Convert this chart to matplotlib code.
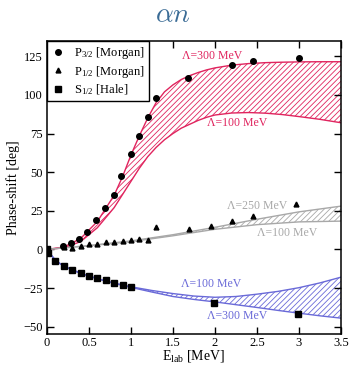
import matplotlib
matplotlib.use("Agg")
import matplotlib.pyplot as plt

plt.rcParams["font.family"] = ["Liberation Serif", "DejaVu Serif"]
plt.rcParams["mathtext.fontset"] = "custom"
plt.rcParams["mathtext.rm"] = "Liberation Serif"
plt.rcParams["mathtext.it"] = "Liberation Serif:italic"
plt.rcParams["hatch.linewidth"] = 0.6

RED = "#e0245e"
GREY = "#a8a8a8"
BLUE = "#6a6ad8"

# data points
p32_x = [0.19, 0.29, 0.38, 0.48, 0.58, 0.69, 0.8, 0.88, 1.0, 1.1, 1.2, 1.3, 1.68, 2.2, 2.45, 3.0]
p32_y = [2.5, 4.3, 7.0, 11.5, 19.0, 26.7, 35.0, 47.4, 62.0, 73.7, 85.5, 98.3, 111.0, 119.4, 122.0, 124.0]

p12_x = [0.2, 0.3, 0.4, 0.5, 0.6, 0.7, 0.8, 0.9, 1.0, 1.1, 1.2, 1.3, 1.69, 1.95, 2.2, 2.45, 2.97]
p12_y = [1.5, 1.2, 2.0, 3.4, 3.6, 4.7, 5.1, 5.3, 6.4, 7.0, 6.4, 14.3, 13.5, 15.4, 18.6, 21.8, 29.5]

s12_x = [0.0, 0.01, 0.1, 0.2, 0.3, 0.4, 0.5, 0.6, 0.7, 0.8, 0.9, 1.0, 1.99, 2.99]
s12_y = [0.0, -2.5, -7.5, -10.9, -13.2, -15.4, -17.5, -18.8, -20.0, -21.8, -23.0, -24.3, -34.6, -41.7]

# band edges: P3/2 (lambda 300 / 100)
p32_band_x = [0.0, 0.2, 0.4, 0.6, 0.8, 0.9, 1.0, 1.1, 1.2, 1.3, 1.4, 1.5, 1.6, 1.7, 1.8, 1.9, 2.0,
              2.2, 2.4, 2.6, 2.8, 3.0, 3.25, 3.5]
p32_hi = [0.0, 1.5, 7.0, 18.0, 35.0, 47.0, 61.0, 73.5, 85.0, 95.0, 102.0, 106.5, 110.0, 112.5, 114.5,
          116.2, 117.5, 119.3, 120.3, 120.9, 121.2, 121.4, 121.5, 121.5]
p32_lo = [0.0, 1.0, 5.0, 14.0, 27.0, 35.5, 44.0, 52.5, 60.0, 66.0, 71.0, 75.0, 78.5, 81.0, 83.5,
          85.5, 87.0, 88.3, 88.6, 88.2, 87.3, 86.0, 84.2, 82.0]

# P1/2 (lambda 250 / 100)
p12_band_x = [0.0, 0.5, 1.0, 1.5, 2.0, 2.5, 3.0, 3.5]
p12_hi = [0.0, 2.5, 5.5, 9.5, 14.3, 19.5, 24.3, 28.0]
p12_lo = [0.0, 2.3, 5.0, 8.8, 13.0, 16.0, 17.8, 18.3]

# S1/2 (lambda 100 / 300)
s12_band_x = [0.0, 0.05, 0.1, 0.2, 0.4, 0.6, 0.8, 1.0, 1.25, 1.5, 1.75, 2.0, 2.25, 2.5, 2.75, 3.0, 3.25, 3.5]
s12_hi = [0.0, -3.5, -7.0, -10.8, -15.4, -18.9, -21.8, -24.2, -26.6, -28.6, -30.2, -31.0, -30.5, -29.0,
          -27.2, -24.8, -21.7, -18.0]
s12_lo = [0.0, -3.5, -7.0, -10.9, -15.5, -19.0, -22.0, -24.6, -27.6, -30.5, -32.4, -34.0, -35.8, -37.6,
          -39.5, -41.3, -43.0, -44.5]

labels = [
    ("Λ=300 MeV", 1.97, 125.5, RED),
    ("Λ=100 MeV", 2.26, 82.0, RED),
    ("Λ=250 MeV", 2.5, 28.0, GREY),
    ("Λ=100 MeV", 2.86, 10.3, GREY),
    ("Λ=100 MeV", 1.96, -22.4, BLUE),
    ("Λ=300 MeV", 2.26, -43.4, BLUE),
]

fig = plt.figure(figsize=(3.5, 3.65), dpi=100)
ax = fig.add_axes([0.134, 0.084, 0.84, 0.804])

for bx, hi, lo, c in [(p32_band_x, p32_hi, p32_lo, RED),
                      (p12_band_x, p12_hi, p12_lo, GREY),
                      (s12_band_x, s12_hi, s12_lo, BLUE)]:
    ax.fill_between(bx, lo, hi, facecolor="none", edgecolor=c, hatch="//////", linewidth=0)
    ax.plot(bx, hi, color=c, lw=1.0)
    ax.plot(bx, lo, color=c, lw=1.0)

ax.plot(p32_x, p32_y, "o", color="black", ms=4, label="P$_{3/2}$ [Morgan]", zorder=5)
ax.plot(p12_x, p12_y, "^", color="black", ms=3.5, label="P$_{1/2}$ [Morgan]", zorder=5)
ax.plot(s12_x, s12_y, "s", color="black", ms=4, label="S$_{1/2}$ [Hale]", zorder=5)

for txt, x, y, c in labels:
    ax.text(x, y, txt, color=c, fontsize=8.5, ha="center", va="center")

ax.set_xlim(0, 3.5)
ax.set_ylim(-55, 135)
ax.set_xticks([0, 0.5, 1, 1.5, 2, 2.5, 3, 3.5])
ax.set_xticklabels(["0", "0.5", "1", "1.5", "2", "2.5", "3", "3.5"])
ax.set_yticks([-50, -25, 0, 25, 50, 75, 100, 125])
ax.tick_params(direction="in", length=5, width=1, top=True, right=True, labelsize=9)
ax.tick_params(axis="x", pad=2)
ax.tick_params(axis="y", pad=3)
for s in ax.spines.values():
    s.set_linewidth(1.1)

ax.set_xlabel("E$_{\\rm lab}$ [MeV]", fontsize=10, labelpad=-1)
ax.set_ylabel("Phase-shift [deg]", fontsize=10, labelpad=2)

leg = ax.legend(loc="upper left", fontsize=9, frameon=True, fancybox=False, framealpha=1,
                edgecolor="black", borderaxespad=0, handlelength=1.0, handletextpad=0.8,
                labelspacing=0.2, borderpad=0.35)
leg.get_frame().set_linewidth(1.0)

fig.text(0.495, 0.958, "$\\alpha n$", math_fontfamily="cm", fontsize=20, color="#3b6c96",
         ha="center", va="center")

fig.savefig("out.png", dpi=100)
